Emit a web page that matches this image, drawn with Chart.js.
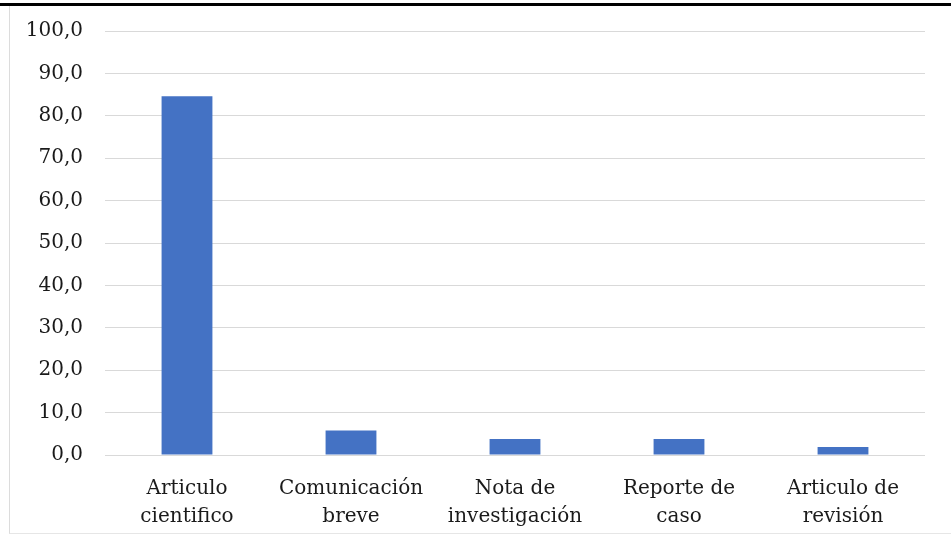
<!DOCTYPE html>
<html>
<head>
<meta charset="utf-8">
<script src="https://cdn.jsdelivr.net/npm/chart.js@4"></script>
<style>
  html, body { margin: 0; padding: 0; background: #fff; }
  body { width: 951px; height: 542px; position: relative; overflow: hidden; }
  #topline { position: absolute; left: 0; top: 3px; width: 951px; height: 3px; background: #000; z-index: 2; }
  #frame { position: absolute; left: 9px; top: 6px; width: 942px; height: 527px;
           border-left: 1px solid #dcdcdc; border-bottom: 1px solid #e6e6e6; }
  #wrap { position: absolute; left: 10px; top: -3px; width: 930px; height: 535px; z-index: 1; }
</style>
</head>
<body>
<div id="topline"></div>
<div id="frame"></div>
<div id="wrap"><canvas id="grafico"></canvas></div>
<script>
'use strict';
// datos del grafico
const categorias = [
    ['Articulo', 'cientifico'],
    ['Comunicación', 'breve'],
    ['Nota de', 'investigación'],
    ['Reporte de', 'caso'],
    ['Articulo de', 'revisión']
];
const porcentajes = [84.6, 5.8, 3.8, 3.8, 1.9];
const ejeY = { min: 0, max: 100, paso: 10 };

const fuente = { family: '"DejaVu Serif", serif', size: 20 };

const ctx = document.getElementById('grafico').getContext('2d');
const grafico = new Chart(ctx, {
    type: 'bar',
    data: {
        labels: categorias,
        datasets: [{
            data: porcentajes,
            backgroundColor: '#4472C4',
            barPercentage: 0.31,
            categoryPercentage: 1
        }]
    },
    options: {
        responsive: true,
        maintainAspectRatio: false,
        animation: false,
        layout: { padding: { top: 4, right: 15, left: 0, bottom: 0 } },
        scales: {
            x: {
                grid: { display: false },
                border: { display: false },
                ticks: { color: '#1a1a1a', font: { ...fuente, lineHeight: 1.4 }, padding: 12, maxRotation: 0, autoSkip: false },
                afterFit: (scale) => { scale.height = 77; }
            },
            y: {
                min: ejeY.min,
                max: ejeY.max,
                grid: { color: '#d9d9d9', lineWidth: 1, drawTicks: false },
                border: { display: false },
                ticks: {
                    stepSize: ejeY.paso,
                    color: '#1a1a1a',
                    font: fuente,
                    padding: 22,
                    callback: (v) => v.toFixed(1).replace('.', ',')
                },
                afterFit: (scale) => { scale.width = 95; }
            }
        },
        plugins: {
            legend: { display: false },
            tooltip: { enabled: false }
        }
    }
});
</script>
</body>
</html>
